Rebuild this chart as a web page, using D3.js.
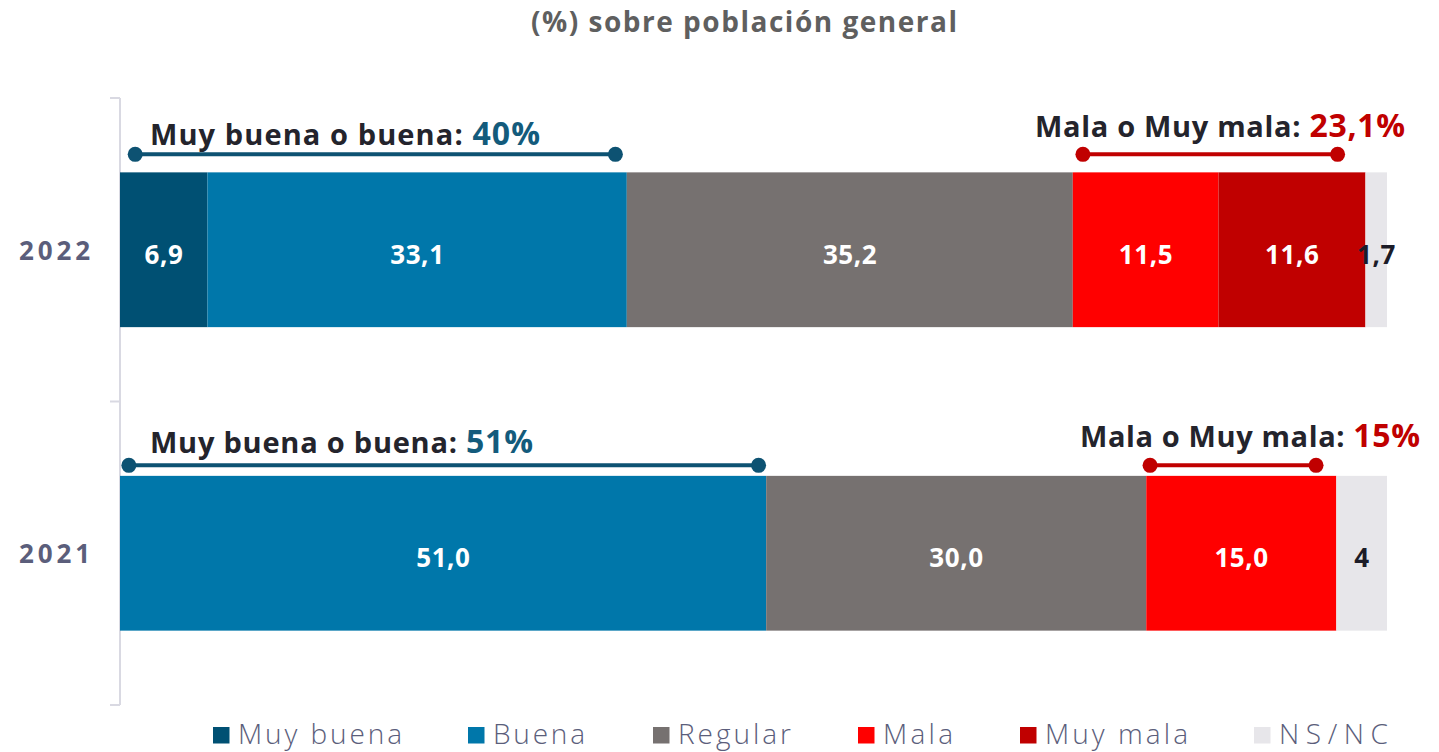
<!DOCTYPE html>
<html>
<head>
<meta charset="utf-8">
<script src="https://cdn.jsdelivr.net/npm/d3@7"></script>
<style>
  html, body { margin: 0; padding: 0; background: #fff; }
  svg { display: block; font-family: "Open Sans", "Lato", sans-serif; }
</style>
</head>
<body>
<svg id="chart" width="1439" height="752"></svg>
<script>
// ---- Data ----
const years = ["2022", "2021"];
const categories = ["Muy buena", "Buena", "Regular", "Mala", "Muy mala", "NS/NC"];
const values2022 = [6.9, 33.1, 35.2, 11.5, 11.6, 1.7];
const values2021 = [0, 51.0, 30.0, 15.0, 0, 4];
const labels2022 = ["6,9", "33,1", "35,2", "11,5", "11,6", "1,7"];
const labels2021 = ["", "51,0", "30,0", "15,0", "", "4"];
const goodTotals = ["40%", "51%"];
const badTotals = ["23,1%", "15%"];
// bracket extents (in % units)
const goodBrackets = [[1.2, 39.1], [0.7, 50.4]];
const badBrackets = [[76.0, 96.1], [81.3, 94.4]];
const colors = ["#005073", "#0077aa", "#767170", "#ff0000", "#c00000", "#e7e6ea"];
const labelColors = ["#ffffff", "#ffffff", "#ffffff", "#ffffff", "#ffffff", "#1c1c28"];

const svg = d3.select("#chart");
const x = d3.scaleLinear().domain([0, 100]).range([120, 1387]);
const y = d3.scaleBand().domain(years).range([98, 705]).padding(0);
const barH = y.bandwidth() * 0.51;
const barTop = yr => y(yr) + (y.bandwidth() - barH) / 2;

// stretch a start-anchored text to a target width via letter-spacing
function fit(sel, width) {
  const node = sel.node();
  const n = node.textContent.length;
  const len = node.getComputedTextLength();
  if (n > 1) sel.attr("letter-spacing", (width - len) / (n - 1));
  return sel;
}

// title
fit(svg.append("text")
  .attr("x", 531).attr("y", 32)
  .attr("font-size", 28).attr("font-weight", 700)
  .attr("fill", "#5f5f5f")
  .text("(%) sobre población general"), 426);

// axis
const axisG = svg.append("g").attr("transform", "translate(120,0)");
axisG.append("line").attr("x1", 0).attr("x2", 0).attr("y1", y.range()[0]).attr("y2", y.range()[1])
  .attr("stroke", "#d9d9e2").attr("stroke-width", 2);
const tickYs = [y.range()[0]].concat(years.map(yr => y(yr) + y.bandwidth()));
axisG.selectAll("line.tick").data(tickYs).enter().append("line")
  .attr("class", "tick")
  .attr("x1", -10).attr("x2", 0).attr("y1", d => d).attr("y2", d => d)
  .attr("stroke", "#d9d9e2").attr("stroke-width", 2);

// category labels
years.forEach(yr => {
  const t = svg.append("text")
    .attr("x", 19).attr("y", y(yr) + y.bandwidth() / 2 + 10)
    .attr("font-size", 26).attr("font-weight", 700)
    .attr("fill", "#5b5e7b")
    .text(yr);
  fit(t, 71);
});

// bars
const allValues = [values2022, values2021];
const allLabels = [labels2022, labels2021];
years.forEach((yr, i) => {
  const vals = allValues[i];
  let cum = 0;
  const segs = vals.map((v, j) => { const s = { x0: cum, x1: cum + v, v, j, label: allLabels[i][j] }; cum += v; return s; });
  const g = svg.append("g");
  g.selectAll("rect").data(segs.filter(s => s.v > 0)).enter().append("rect")
    .attr("x", s => x(s.x0)).attr("width", s => x(s.x1) - x(s.x0))
    .attr("y", barTop(yr)).attr("height", barH)
    .attr("fill", s => colors[s.j]);
  g.selectAll("text").data(segs.filter(s => s.v > 0)).enter().append("text")
    .attr("x", s => (x(s.x0) + x(s.x1)) / 2 + 0.3)
    .attr("y", barTop(yr) + barH / 2 + 14)
    .attr("text-anchor", "middle")
    .attr("font-size", 26).attr("font-weight", 700)
    .attr("letter-spacing", 0.6)
    .attr("fill", s => labelColors[s.j])
    .text(s => s.label);
});

// brackets + annotations
function bracket(x0, x1, yy, col) {
  svg.append("line").attr("x1", x(x0)).attr("x2", x(x1)).attr("y1", yy).attr("y2", yy)
    .attr("stroke", col).attr("stroke-width", 4);
  [x0, x1].forEach(v => svg.append("circle").attr("cx", x(v)).attr("cy", yy).attr("r", 7.5).attr("fill", col));
}
const blueLine = "#0d5272", redLine = "#c00000";
const bracketOffsets = [18, 10.5];
const goodTextOffsets = [27, 23];
const badTextOffsets = [35, 29];
const goodTextWidths = [390, 383];
const badTextStart = [1035, 1080];
const badTextWidths = [370, 340];
years.forEach((yr, i) => {
  const top = barTop(yr);
  const by = top - bracketOffsets[i];
  bracket(goodBrackets[i][0], goodBrackets[i][1], by, blueLine);
  bracket(badBrackets[i][0], badBrackets[i][1], by, redLine);
  const t1 = svg.append("text").attr("x", 150).attr("y", top - goodTextOffsets[i])
    .attr("font-size", 29).attr("font-weight", 700).attr("fill", "#24242c");
  t1.append("tspan").text("Muy buena o buena: ");
  t1.append("tspan").attr("fill", "#135b7c").attr("font-size", 32).text(goodTotals[i]);
  fit(t1, goodTextWidths[i]);
  const t2 = svg.append("text").attr("x", badTextStart[i]).attr("y", top - badTextOffsets[i])
    .attr("font-size", 29).attr("font-weight", 700).attr("fill", "#24242c");
  t2.append("tspan").text("Mala o Muy mala: ");
  t2.append("tspan").attr("fill", "#c00000").attr("font-size", 32).text(badTotals[i]);
  fit(t2, badTextWidths[i]);
});

// legend
const legendX = [213, 468, 653, 858, 1020, 1254];
const legendW = [164, 92, 113, 70, 143, 109];
categories.forEach((c, i) => {
  const g = svg.append("g").attr("transform", `translate(${legendX[i]},0)`);
  g.append("rect").attr("x", 0).attr("y", 727).attr("width", 16.5).attr("height", 16.5).attr("fill", colors[i]);
  const t = g.append("text").attr("x", 25).attr("y", 744)
    .attr("font-size", 28).attr("font-weight", 300).attr("fill", "#5b5e7b")
    .text(c);
  fit(t, legendW[i]);
});
</script>
</body>
</html>
